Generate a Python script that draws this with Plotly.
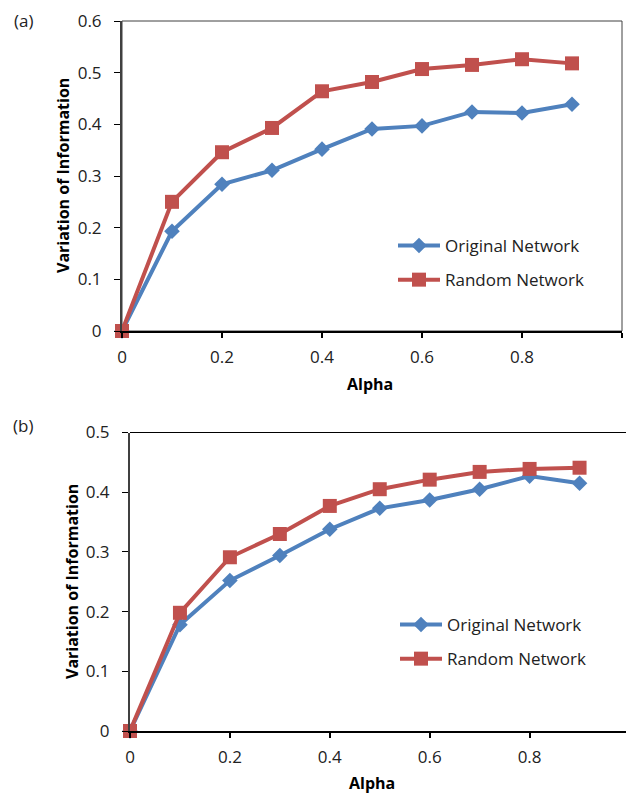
import plotly.graph_objects as go

alpha = [0, 0.1, 0.2, 0.3, 0.4, 0.5, 0.6, 0.7, 0.8, 0.9]
a_original = [0, 0.193, 0.284, 0.311, 0.352, 0.391, 0.397, 0.424, 0.422, 0.439]
a_random = [0, 0.250, 0.346, 0.393, 0.464, 0.482, 0.507, 0.515, 0.526, 0.518]
b_original = [0, 0.178, 0.252, 0.294, 0.338, 0.373, 0.387, 0.405, 0.427, 0.415]
b_random = [0, 0.198, 0.291, 0.330, 0.377, 0.405, 0.421, 0.434, 0.439, 0.441]
series_names = ["Original Network", "Random Network"]
a_yticks = [0, 0.1, 0.2, 0.3, 0.4, 0.5, 0.6]
a_yticklabels = ["0", "0.1", "0.2", "0.3", "0.4", "0.5", "0.6"]
b_yticks = [0, 0.1, 0.2, 0.3, 0.4, 0.5]
b_yticklabels = ["0", "0.1", "0.2", "0.3", "0.4", "0.5"]
a_xticks = [0, 0.2, 0.4, 0.6, 0.8, 1]
a_xticklabels = ["0", "0.2", "0.4", "0.6", "0.8", "1"]
b_xticks = [0, 0.2, 0.4, 0.6, 0.8]
b_xticklabels = ["0", "0.2", "0.4", "0.6", "0.8"]

BLUE = "#4F81BD"
RED = "#C0504D"
W, H = 626, 798
FONT = "Open Sans"
TXT = "#222222"

def px_x(p):
    return p / W

def px_y(p):
    return 1 - p / H

fig = go.Figure()

def add_series(x, y, name, color, symbol, msize, xa, ya, legend):
    fig.add_trace(go.Scatter(
        x=x, y=y, name=name, mode="lines+markers",
        line=dict(color=color, width=4),
        marker=dict(symbol=symbol, size=msize, color=color),
        xaxis=xa, yaxis=ya, legend=legend, legendgroup=legend + name,
        cliponaxis=False,
    ))

add_series(alpha, a_original, series_names[0], BLUE, "diamond", 12, "x", "y", "legend")
add_series(alpha, a_random, series_names[1], RED, "square", 14, "x", "y", "legend")
add_series(alpha, b_original, series_names[0], BLUE, "diamond", 12, "x2", "y2", "legend2")
add_series(alpha, b_random, series_names[1], RED, "square", 14, "x2", "y2", "legend2")

tickfont = dict(family=FONT, size=17, color=TXT)
common_x = dict(showgrid=False, zeroline=False, showline=True, linecolor="#000000", linewidth=1.5,
                ticks="outside", ticklen=5, tickcolor="#000000", tickwidth=1.5,
                tickfont=tickfont, ticklabelstandoff=5, automargin=False)
common_y = dict(showgrid=False, zeroline=False, showline=True, linecolor="#404040", linewidth=2,
                ticks="outside", ticklen=6, tickcolor="#000000", tickwidth=1.2,
                tickfont=tickfont, ticklabelstandoff=9, automargin=False)

a_x0, a_x1, a_y0, a_y1 = 122, 622, 21, 331
b_x0, b_y0, b_y1 = 130, 432.5, 731
b_unit = 499.5

fig.update_layout(
    width=W, height=H, margin=dict(l=0, r=0, t=0, b=0, autoexpand=False),
    paper_bgcolor="white", plot_bgcolor="white",
    xaxis=dict(domain=[px_x(a_x0), px_x(a_x1)], range=[0, 1], tickvals=a_xticks,
               ticktext=a_xticklabels, anchor="y", **common_x),
    yaxis=dict(domain=[px_y(a_y1), px_y(a_y0)], range=[0, 0.6], tickvals=a_yticks,
               ticktext=a_yticklabels, anchor="x", **common_y),
    xaxis2=dict(domain=[px_x(b_x0), 1], range=[0, (W - b_x0) / b_unit], tickvals=b_xticks,
                ticktext=b_xticklabels, anchor="y2", **common_x),
    yaxis2=dict(domain=[px_y(b_y1), px_y(b_y0)], range=[0, 0.5], tickvals=b_yticks,
                ticktext=b_yticklabels, anchor="x2", **common_y),
    legend=dict(x=px_x(393), y=px_y(228), xanchor="left", yanchor="top",
                font=dict(family=FONT, size=17, color=TXT), bgcolor="rgba(0,0,0,0)",
                traceorder="grouped", tracegroupgap=9, itemwidth=42),
    legend2=dict(x=px_x(395), y=px_y(607), xanchor="left", yanchor="top",
                 font=dict(family=FONT, size=17, color=TXT), bgcolor="rgba(0,0,0,0)",
                 traceorder="grouped", tracegroupgap=9, itemwidth=42),
    showlegend=True,
)

# plot-area borders (top/right) drawn thin, as in the reference
fig.add_shape(type="rect", xref="paper", yref="paper",
              x0=px_x(a_x0), x1=px_x(a_x1), y0=px_y(a_y1), y1=px_y(a_y0),
              line=dict(color="#404040", width=1), layer="below")
fig.add_shape(type="line", xref="paper", yref="paper",
              x0=px_x(b_x0), x1=1, y0=px_y(b_y0), y1=px_y(b_y0),
              line=dict(color="#000000", width=1.2), layer="below")

ann_font = dict(family=FONT, size=17, color=TXT)
title_font = dict(family=FONT, size=16, color="#000000")
annotations = [
    dict(text="(a)", x=px_x(23), y=px_y(20)),
    dict(text="(b)", x=px_x(23), y=px_y(425)),
]
for a in annotations:
    fig.add_annotation(xref="paper", yref="paper", x=a["x"], y=a["y"], text=a["text"],
                       showarrow=False, font=ann_font, xanchor="center", yanchor="middle")

fig.add_annotation(xref="paper", yref="paper", x=px_x(370), y=px_y(384), text="<b>Alpha</b>",
                   showarrow=False, font=title_font, xanchor="center", yanchor="middle")
fig.add_annotation(xref="paper", yref="paper", x=px_x(372), y=px_y(783), text="<b>Alpha</b>",
                   showarrow=False, font=title_font, xanchor="center", yanchor="middle")
fig.add_annotation(xref="paper", yref="paper", x=px_x(63), y=px_y(176),
                   text="<b>Variation of Information</b>", textangle=-90,
                   showarrow=False, font=title_font, xanchor="center", yanchor="middle")
fig.add_annotation(xref="paper", yref="paper", x=px_x(72), y=px_y(582),
                   text="<b>Variation of Information</b>", textangle=-90,
                   showarrow=False, font=title_font, xanchor="center", yanchor="middle")

fig.write_html("out.html")
